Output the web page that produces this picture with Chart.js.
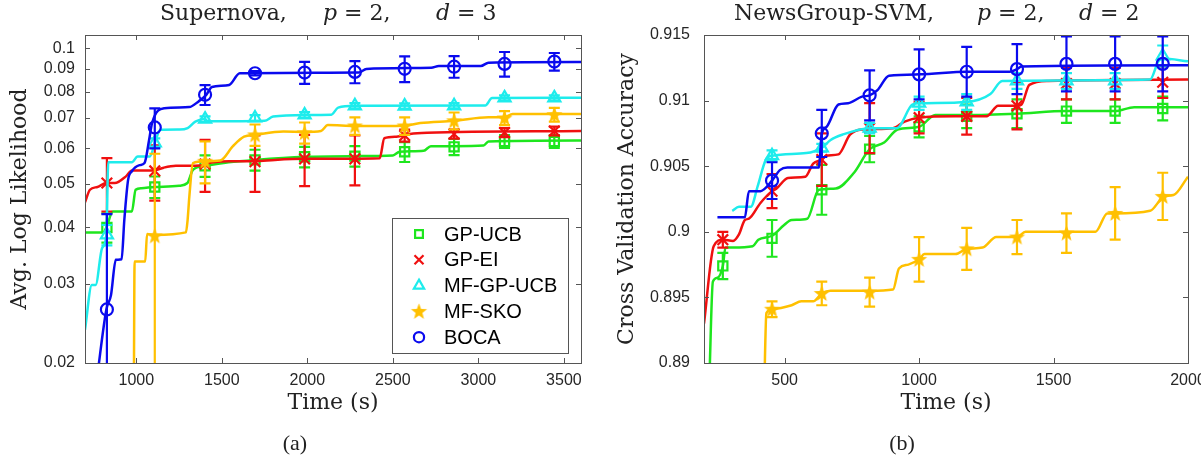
<!DOCTYPE html>
<html>
<head>
<meta charset="utf-8">
<script src="https://cdn.jsdelivr.net/npm/chart.js@4.4.0/dist/chart.umd.min.js"></script>
<style>
    body { margin: 0; background: #fff; width: 1201px; height: 463px; overflow: hidden; position: relative; font-family: "DejaVu Serif", serif; color: #222; }
    canvas { position: absolute; top: 0; }
    #chartA { left: 0; }
    #chartB { left: 600px; }
    .ttl { position: absolute; top: 0; font-size: 22px; line-height: 26px; white-space: pre; }
    .cap { position: absolute; top: 430px; width: 60px; text-align: center; font-family: "Liberation Serif", serif; font-size: 22px; }
</style>
</head>
<body>
<canvas id="chartA" width="595" height="463"></canvas>
<canvas id="chartB" width="601" height="463"></canvas>

<span class="ttl" style="left:160px">Supernova,</span>
<span class="ttl" style="left:323px"><i>p</i> = 2,</span>
<span class="ttl" style="left:436px"><i>d</i> = 3</span>
<span class="ttl" style="left:734px">NewsGroup-SVM,</span>
<span class="ttl" style="left:977px"><i>p</i> = 2,</span>
<span class="ttl" style="left:1079px"><i>d</i> = 2</span>
<div class="cap" style="left:265px">(a)</div>
<div class="cap" style="left:872px">(b)</div>

<script>
// ---------- panel (a): Supernova ----------
const xTicksA = [1000, 1500, 2000, 2500, 3000, 3500];
const yTicksA = [0.02, 0.03, 0.04, 0.05, 0.06, 0.07, 0.08, 0.09, 0.1];
const markTimesA = [828, 1108, 1402, 1694, 1984, 2278, 2569, 2858, 3153, 3444];

const gpucbLineA = [[700,0.039],[807,0.039],[825,0.040],[863,0.0434],[974,0.0434],[996,0.0485],[1030,0.0489],[1108,0.0492],[1250,0.0495],[1299,0.0502],[1331,0.0537],[1402,0.0548],[1540,0.0558],[1694,0.0565],[1984,0.0574],[2278,0.0576],[2500,0.0578],[2540,0.0589],[2680,0.0592],[2722,0.0606],[2858,0.0606],[3030,0.0608],[3059,0.0621],[3600,0.0624]];
const gpucbMarkA = [0.0400, 0.0492, 0.0548, 0.0565, 0.0574, 0.0576, 0.0589, 0.0604, 0.0621, 0.0621];
const gpucbErrA = [0.003, 0.0027, 0.003, 0.003, 0.003, 0.003, 0.003, 0.0025, 0.002, 0.002];

const gpeiLineA = [[700,0.0455],[729,0.0485],[773,0.0492],[825,0.0502],[874,0.0502],[941,0.052],[974,0.0535],[1097,0.0535],[1160,0.0543],[1231,0.0548],[1390,0.055],[1402,0.0553],[1540,0.0561],[1694,0.0561],[1810,0.0565],[1984,0.0568],[2423,0.057],[2450,0.0631],[2520,0.0636],[2600,0.0645],[2700,0.0649],[3600,0.0655]];
const gpeiMarkA = [0.0502, 0.0534, 0.0553, 0.0560, 0.0568, 0.0568, 0.0640, 0.0645, 0.0650, 0.0655];
const gpeiErrA = [0.0068, 0.0075, 0.0073, 0.008, 0.0074, 0.0072, 0.002, 0.0015, 0.0015, 0.0015];

const mfgpucbLineA = [[700,0.0237],[740,0.0298],[762,0.0298],[800,0.036],[825,0.0385],[836,0.0558],[974,0.0558],[1008,0.0575],[1080,0.0575],[1108,0.0616],[1141,0.0659],[1253,0.066],[1300,0.0665],[1345,0.0687],[1402,0.0696],[1420,0.0688],[1750,0.069],[1800,0.0705],[1984,0.0711],[2140,0.0712],[2180,0.0738],[2278,0.0745],[3040,0.0746],[3080,0.0775],[3600,0.0776]];
const mfgpucbMarkA = [0.0385, 0.0616, 0.0696, 0.0700, 0.0711, 0.0745, 0.0744, 0.0745, 0.0776, 0.0776];
const mfgpucbErrA = [0.002, 0.0015, 0.001, 0.001, 0.001, 0.001, 0.001, 0.001, 0.001, 0.001];

const mfskoLineA = [[985,0.015],[990,0.0336],[1052,0.0336],[1063,0.0387],[1108,0.0385],[1290,0.039],[1300,0.0416],[1310,0.0468],[1331,0.0556],[1402,0.0561],[1490,0.0563],[1565,0.0606],[1630,0.0636],[1694,0.0642],[1860,0.0653],[1984,0.0652],[2080,0.0655],[2120,0.0675],[2278,0.0672],[2569,0.0673],[2660,0.0682],[2858,0.069],[3059,0.0703],[3153,0.0703],[3200,0.0714],[3600,0.0714]];
const mfskoMarkA = [null, 0.0383, 0.0561, 0.0642, 0.0649, 0.0672, 0.0672, 0.0690, 0.0700, 0.0712];
const mfskoErrA = [null, 0.020, 0.006, 0.0035, 0.0035, 0.003, 0.003, 0.003, 0.0025, 0.0025];

const bocaLineA = [[770,0.0185],[825,0.0263],[852,0.0283],[880,0.0339],[914,0.034],[930,0.0416],[952,0.051],[974,0.0533],[1019,0.055],[1048,0.0556],[1075,0.0626],[1092,0.0682],[1164,0.0736],[1309,0.074],[1364,0.0762],[1409,0.0788],[1442,0.082],[1543,0.0829],[1605,0.088],[2301,0.0883],[2345,0.0899],[2724,0.0905],[2769,0.0913],[3014,0.0913],[3059,0.0929],[3600,0.0932]];
const bocaMarkA = [0.0263, 0.0667, 0.0788, 0.0880, 0.0883, 0.0886, 0.0900, 0.0910, 0.0923, 0.0934];
const bocaErrA = [0.0165, 0.0068, 0.004, 0.001, 0.005, 0.005, 0.0059, 0.005, 0.0058, 0.0042];

// ---------- panel (b): NewsGroup-SVM ----------
const xTicksB = [500, 1000, 1500, 2000];
const yTicksB = [0.89, 0.895, 0.9, 0.905, 0.91, 0.915];
const markTimesB = [270, 453, 638, 816, 1000, 1177, 1364, 1548, 1729, 1906];

const gpucbLineB = [[219,0.888],[233,0.8962],[250,0.8965],[270,0.8974],[280,0.8988],[308,0.8988],[381,0.8989],[402,0.8994],[453,0.8997],[497,0.9005],[526,0.9009],[584,0.901],[627,0.9032],[690,0.9033],[758,0.9045],[816,0.9063],[870,0.9068],[920,0.9078],[1000,0.908],[1060,0.9089],[1177,0.9089],[1364,0.909],[1548,0.9092],[1729,0.9092],[1800,0.9095],[2000,0.9095]];
const gpucbMarkB = [0.8974, 0.8995, 0.9032, 0.9063, 0.9080, 0.9088, 0.9090, 0.9092, 0.9092, 0.9094];
const gpucbErrB = [0.001, 0.0014, 0.0019, 0.001, 0.0008, 0.0009, 0.0011, 0.0009, 0.0009, 0.0009];

const gpeiLineB = [[200,0.893],[236,0.8989],[270,0.8994],[308,0.8993],[330,0.8998],[352,0.9009],[367,0.901],[410,0.9022],[453,0.9031],[470,0.9033],[512,0.9041],[577,0.9042],[606,0.9052],[638,0.9055],[655,0.9058],[700,0.9059],[743,0.9074],[787,0.9078],[903,0.9079],[946,0.9084],[1000,0.9087],[1135,0.9088],[1251,0.9088],[1294,0.9096],[1364,0.9096],[1381,0.9097],[1410,0.9112],[1480,0.9115],[2000,0.9116]];
const gpeiMarkB = [0.8994, 0.9031, 0.9055, 0.9079, 0.9087, 0.9088, 0.9096, 0.9113, 0.9113, 0.9114];
const gpeiErrB = [0.0006, 0.0013, 0.002, 0.0019, 0.0012, 0.0014, 0.0018, 0.0012, 0.0012, 0.0012];

const mfgpucbLineB = [[305,0.9016],[330,0.9019],[374,0.9019],[400,0.9035],[430,0.9055],[453,0.9058],[580,0.906],[638,0.9064],[671,0.907],[714,0.9074],[816,0.9079],[917,0.9079],[975,0.9097],[1000,0.9098],[1177,0.9099],[1265,0.9105],[1309,0.9115],[1859,0.9116],[1890,0.913],[1906,0.9132],[2000,0.913]];
const mfgpucbMarkB = [null, 0.9058, 0.9064, 0.9079, 0.9098, 0.9099, 0.9115, 0.9115, 0.9115, 0.9134];
const mfgpucbErrB = [null, 0.0004, 0.0003, 0.0004, 0.0005, 0.0006, 0.0006, 0.0006, 0.0006, 0.0008];

const mfskoLineB = [[424,0.888],[432,0.8938],[453,0.8941],[526,0.8944],[562,0.8947],[606,0.8947],[638,0.8953],[671,0.8955],[816,0.8955],[903,0.8956],[925,0.8972],[960,0.8975],[1000,0.8979],[1020,0.8983],[1135,0.8983],[1177,0.8987],[1236,0.8988],[1287,0.8996],[1364,0.8996],[1396,0.9],[1656,0.9],[1700,0.9014],[1729,0.9014],[1859,0.9016],[1895,0.9024],[1906,0.9027],[1946,0.9028],[2000,0.9042]];
const mfskoMarkB = [null, 0.8941, 0.8953, 0.8954, 0.8979, 0.8987, 0.8996, 0.8999, 0.9014, 0.9027];
const mfskoErrB = [null, 0.0006, 0.0009, 0.0011, 0.0017, 0.0016, 0.0013, 0.0015, 0.002, 0.0018];

const bocaLineB = [[250,0.9011],[352,0.9011],[367,0.9031],[410,0.9031],[453,0.9039],[482,0.9047],[510,0.9049],[627,0.9049],[638,0.9075],[656,0.908],[700,0.9097],[736,0.9098],[787,0.9103],[816,0.9104],[845,0.9108],[888,0.9119],[1000,0.912],[1177,0.9122],[1337,0.9122],[1364,0.9124],[1381,0.9126],[2000,0.9127]];
const bocaMarkB = [null, 0.9039, 0.9075, 0.9104, 0.9120, 0.9122, 0.9124, 0.9128, 0.9128, 0.9128];
const bocaErrB = [null, 0.0014, 0.0018, 0.0019, 0.0019, 0.0019, 0.0019, 0.0021, 0.0021, 0.0021];

// filled five-point star, MATLAB 'p' marker
function starImage(color, r) {
    const c = document.createElement('canvas');
    const s = Math.ceil(r * 2 + 4);
    c.width = c.height = s;
    const g = c.getContext('2d');
    g.translate(s / 2, s / 2 + 0.5);
    g.beginPath();
    for (let i = 0; i < 10; i++) {
        const rr = i % 2 ? r * 0.42 : r;
        const a = -Math.PI / 2 + i * Math.PI / 5;
        g.lineTo(rr * Math.cos(a), rr * Math.sin(a));
    }
    g.closePath();
    g.fillStyle = color;
    g.fill();
    return c;
}

const gold = '#ffc000';
const styles = [
    { label: 'GP-UCB', color: '#1ee61e', pointStyle: 'rect', radius: 6.5 },
    { label: 'GP-EI', color: '#f01010', pointStyle: 'crossRot', radius: 7.5 },
    { label: 'MF-GP-UCB', color: '#1eecec', pointStyle: 'triangle', radius: 7 },
    { label: 'MF-SKO', color: gold, pointStyle: starImage(gold, 8.5), radius: 7 },
    { label: 'BOCA', color: '#0a0aee', pointStyle: 'circle', radius: 6 }
];

function buildDatasets(series, markTimes) {
    const out = [];
    series.forEach((s, k) => {
        const st = styles[k];
        const order = (styles.length - 1 - k) * 2;
        const pts = [], errs = [];
        markTimes.forEach((t, i) => {
            if (s.mark[i] == null) return;
            pts.push({ x: t, y: s.mark[i] });
            errs.push(s.err[i]);
        });
        out.push({
            label: st.label,
            data: s.line.map(p => ({ x: p[0], y: p[1] })),
            showLine: true,
            borderColor: st.color,
            borderWidth: 2.5,
            pointRadius: 0,
            cubicInterpolationMode: 'monotone',
            order: order + 1
        });
        out.push({
            label: st.label + ' markers',
            data: pts,
            errors: errs,
            showLine: false,
            pointStyle: st.pointStyle,
            pointRadius: st.radius,
            pointBorderWidth: 2.2,
            pointBorderColor: st.color,
            pointBackgroundColor: 'rgba(0,0,0,0)',
            errColor: st.color,
            order: order
        });
    });
    return out;
}

// vertical error bars, drawn just before each marker set
const errorBars = {
    id: 'errorBars',
    beforeDatasetDraw(chart, args) {
        const ds = chart.data.datasets[args.index];
        if (!ds.errors) return;
        const { ctx, chartArea: a } = chart;
        const y = chart.scales.y;
        ctx.save();
        ctx.beginPath();
        ctx.rect(a.left, a.top, a.width, a.height);
        ctx.clip();
        ctx.strokeStyle = ds.errColor;
        ctx.lineWidth = 2.2;
        ds.data.forEach((p, i) => {
            const e = ds.errors[i];
            if (e == null) return;
            const px = args.meta.data[i].x;
            const top = y.getPixelForValue(p.y + e);
            const lo = p.y - e;
            const bot = lo > 0 ? y.getPixelForValue(lo) : a.bottom + 20;
            ctx.beginPath();
            ctx.moveTo(px, top); ctx.lineTo(px, bot);
            ctx.moveTo(px - 5.5, top); ctx.lineTo(px + 5.5, top);
            ctx.moveTo(px - 5.5, bot); ctx.lineTo(px + 5.5, bot);
            ctx.stroke();
        });
        ctx.restore();
    }
};

// MATLAB style box with inward ticks on all four sides
const boxTicks = {
    id: 'boxTicks',
    afterDraw(chart) {
        const { ctx, chartArea: a, scales: { x, y } } = chart;
        ctx.save();
        ctx.strokeStyle = '#555';
        ctx.lineWidth = 1;
        ctx.beginPath();
        x.ticks.forEach(t => {
            const px = Math.round(x.getPixelForValue(t.value)) + 0.5;
            ctx.moveTo(px, a.bottom); ctx.lineTo(px, a.bottom - 5);
            ctx.moveTo(px, a.top); ctx.lineTo(px, a.top + 5);
        });
        y.ticks.forEach(t => {
            const py = Math.round(y.getPixelForValue(t.value)) + 0.5;
            ctx.moveTo(a.left, py); ctx.lineTo(a.left + 5, py);
            ctx.moveTo(a.right, py); ctx.lineTo(a.right - 5, py);
        });
        ctx.stroke();
        ctx.strokeRect(Math.round(a.left) + 0.5, Math.round(a.top) + 0.5, Math.round(a.width), Math.round(a.height));
        ctx.restore();
    }
};

// legend box inside panel (a)
const legendBox = {
    id: 'legendBox',
    afterDraw(chart) {
        const ctx = chart.ctx;
        const bx = 392, by = 218, bw = 176, bh = 135;
        ctx.save();
        ctx.fillStyle = '#fff';
        ctx.fillRect(bx, by, bw, bh);
        ctx.strokeStyle = '#555';
        ctx.lineWidth = 1;
        ctx.strokeRect(bx + 0.5, by + 0.5, bw, bh);
        ctx.font = '20px "Liberation Sans", Arial, sans-serif';
        ctx.textBaseline = 'middle';
        styles.forEach((st, i) => {
            const cy = by + 16 + i * 25.8;
            ctx.strokeStyle = st.color;
            ctx.fillStyle = 'rgba(0,0,0,0)';
            ctx.lineWidth = 2.2;
            Chart.helpers.drawPoint(ctx, {
                pointStyle: st.pointStyle,
                radius: st.radius * 0.85,
                rotation: 0,
                borderWidth: 2.2
            }, 419, cy);
            ctx.fillStyle = '#000';
            ctx.fillText(st.label, 444, cy + 1);
        });
        ctx.restore();
    }
};

const tickFont = { family: '"Liberation Sans", Arial, sans-serif', size: 16 };
const titleFont = { family: '"DejaVu Serif", serif', size: 22 };

function makeChart(id, series, markTimes, cfg) {
    const ctx = document.getElementById(id).getContext('2d');
    return new Chart(ctx, {
        type: 'scatter',
        data: { datasets: buildDatasets(series, markTimes) },
        options: {
            responsive: false,
            animation: false,
            layout: { padding: { left: 0, top: 35, right: cfg.padRight, bottom: 0 } },
            plugins: { legend: { display: false }, tooltip: { enabled: false } },
            scales: {
                x: {
                    type: 'linear',
                    min: cfg.xMin, max: cfg.xMax,
                    afterBuildTicks: s => { s.ticks = cfg.xTicks.map(v => ({ value: v })); },
                    afterFit: s => { s.height = 100; s.paddingLeft = 0; s.paddingRight = 0; },
                    ticks: { font: tickFont, color: '#262626', padding: 8, autoSkip: false, maxRotation: 0, callback: v => String(v) },
                    grid: { display: false, drawTicks: false },
                    border: { display: false },
                    title: { display: true, text: 'Time (s)', font: titleFont, color: '#222', padding: { top: 0, bottom: 47 } }
                },
                y: {
                    type: cfg.yType,
                    min: cfg.yMin, max: cfg.yMax,
                    afterBuildTicks: s => { s.ticks = cfg.yTicks.map(v => ({ value: v })); },
                    afterFit: s => { s.width = cfg.yWidth; s.paddingTop = 0; s.paddingBottom = 0; },
                    ticks: { font: tickFont, color: '#262626', padding: cfg.yPad, autoSkip: false, callback: v => String(v) },
                    grid: { display: false, drawTicks: false },
                    border: { display: false },
                    title: { display: true, text: cfg.yTitle, font: titleFont, color: '#222', padding: { top: cfg.yTitlePad, bottom: 0 } }
                }
            }
        },
        plugins: cfg.legend ? [errorBars, boxTicks, legendBox] : [errorBars, boxTicks]
    });
}

makeChart('chartA', [
    { line: gpucbLineA, mark: gpucbMarkA, err: gpucbErrA },
    { line: gpeiLineA, mark: gpeiMarkA, err: gpeiErrA },
    { line: mfgpucbLineA, mark: mfgpucbMarkA, err: mfgpucbErrA },
    { line: mfskoLineA, mark: mfskoMarkA, err: mfskoErrA },
    { line: bocaLineA, mark: bocaMarkA, err: bocaErrA }
], markTimesA, {
    xMin: 700, xMax: 3600, xTicks: xTicksA,
    yType: 'logarithmic', yMin: 0.02, yMax: 0.107, yTicks: yTicksA,
    yTitle: 'Avg. Log Likelihood', yWidth: 85, yPad: 10, yTitlePad: 7,
    padRight: 14, legend: true
});

makeChart('chartB', [
    { line: gpucbLineB, mark: gpucbMarkB, err: gpucbErrB },
    { line: gpeiLineB, mark: gpeiMarkB, err: gpeiErrB },
    { line: mfgpucbLineB, mark: mfgpucbMarkB, err: mfgpucbErrB },
    { line: mfskoLineB, mark: mfskoMarkB, err: mfskoErrB },
    { line: bocaLineB, mark: bocaMarkB, err: bocaErrB }
], markTimesB, {
    xMin: 200, xMax: 2000, xTicks: xTicksB,
    yType: 'linear', yMin: 0.89, yMax: 0.915, yTicks: yTicksB,
    yTitle: 'Cross Validation Accuracy', yWidth: 104, yPad: 14, yTitlePad: 14,
    padRight: 13, legend: false
});
</script>
</body>
</html>
